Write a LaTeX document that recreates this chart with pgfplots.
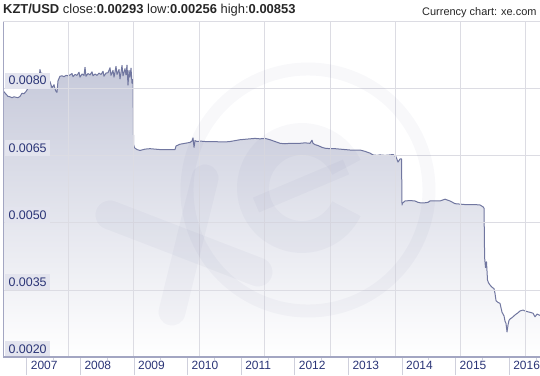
\documentclass[border=0pt]{standalone}
\usepackage{pgfplots}
\pgfplotsset{compat=1.18}
\usepackage{pgfplotstable}
\usepackage{fontspec}
\setmainfont{Liberation Sans}
\definecolor{lineC}{HTML}{7177A0}
\definecolor{fillTop}{HTML}{C6C9DA}
\definecolor{fillBot}{HTML}{FFFFFF}
\definecolor{gridC}{HTML}{DCDCE3}
\definecolor{labText}{HTML}{2B3577}
\definecolor{labBg}{HTML}{E3E4EE}
\definecolor{sepC}{HTML}{CFD0DC}
\definecolor{axisC}{HTML}{A3A6C2}
\definecolor{wmC}{HTML}{4A5088}

\pgfplotstableread{
x y
2006.564 0.00795
2006.614 0.00788
2006.651 0.00783
2006.688 0.00782
2006.726 0.00780
2006.763 0.00782
2006.800 0.00781
2006.838 0.00780
2006.875 0.00783
2006.912 0.00790
2006.950 0.00789
2006.987 0.00794
2007.024 0.00801
2007.062 0.00802
2007.099 0.00805
2007.136 0.00806
2007.174 0.00815
2007.211 0.00818
2007.230 0.00822
2007.248 0.00843
2007.267 0.00832
2007.285 0.00835
2007.323 0.00827
2007.360 0.00828
2007.397 0.00824
2007.435 0.00816
2007.472 0.00802
2007.509 0.00809
2007.528 0.00800
2007.547 0.00794
2007.565 0.00792
2007.584 0.00818
2007.621 0.00828
2007.659 0.00829
2007.696 0.00827
2007.733 0.00830
2007.771 0.00829
2007.808 0.00831
2007.845 0.00834
2007.864 0.00827
2007.901 0.00832
2007.938 0.00830
2007.976 0.00837
2007.994 0.00826
2008.032 0.00833
2008.069 0.00830
2008.088 0.00848
2008.106 0.00828
2008.144 0.00834
2008.181 0.00831
2008.218 0.00838
2008.237 0.00829
2008.274 0.00833
2008.312 0.00830
2008.349 0.00835
2008.386 0.00832
2008.424 0.00839
2008.442 0.00828
2008.479 0.00835
2008.517 0.00836
2008.554 0.00847
2008.573 0.00830
2008.610 0.00841
2008.629 0.00826
2008.666 0.00850
2008.685 0.00832
2008.722 0.00843
2008.741 0.00822
2008.778 0.00852
2008.797 0.00829
2008.834 0.00845
2008.853 0.00831
2008.871 0.00853
2008.890 0.00808
2008.909 0.00841
2008.927 0.00826
2008.946 0.00846
2008.965 0.00812
2008.983 0.00821
2008.994 0.00676
2009.011 0.00668
2009.058 0.00664
2009.114 0.00662
2009.207 0.00665
2009.300 0.00666
2009.394 0.00665
2009.487 0.00664
2009.580 0.00664
2009.674 0.00664
2009.767 0.00664
2009.786 0.00672
2009.823 0.00674
2009.860 0.00676
2009.954 0.00678
2010.047 0.00680
2010.084 0.00683
2010.103 0.00690
2010.122 0.00669
2010.140 0.00684
2010.178 0.00682
2010.234 0.00683
2010.327 0.00682
2010.420 0.00682
2010.513 0.00682
2010.607 0.00681
2010.700 0.00681
2010.793 0.00682
2010.886 0.00684
2010.980 0.00686
2011.073 0.00687
2011.166 0.00688
2011.259 0.00689
2011.353 0.00688
2011.446 0.00689
2011.539 0.00686
2011.633 0.00682
2011.726 0.00678
2011.819 0.00677
2011.912 0.00678
2012.006 0.00678
2012.099 0.00678
2012.192 0.00679
2012.285 0.00678
2012.323 0.00685
2012.341 0.00678
2012.379 0.00675
2012.435 0.00673
2012.509 0.00669
2012.565 0.00667
2012.659 0.00666
2012.752 0.00666
2012.845 0.00665
2012.938 0.00664
2013.032 0.00663
2013.125 0.00663
2013.218 0.00663
2013.312 0.00660
2013.405 0.00656
2013.461 0.00652
2013.536 0.00651
2013.591 0.00652
2013.685 0.00651
2013.778 0.00652
2013.834 0.00653
2013.890 0.00648
2013.927 0.00636
2013.965 0.00643
2013.993 0.00643
2014.002 0.00540
2014.011 0.00544
2014.058 0.00549
2014.151 0.00550
2014.244 0.00549
2014.300 0.00546
2014.338 0.00545
2014.431 0.00545
2014.487 0.00546
2014.524 0.00549
2014.618 0.00549
2014.711 0.00549
2014.804 0.00553
2014.897 0.00549
2014.991 0.00543
2015.084 0.00542
2015.177 0.00541
2015.271 0.00541
2015.364 0.00541
2015.457 0.00540
2015.513 0.00536
2015.532 0.00533
2015.543 0.00422
2015.560 0.00400
2015.578 0.00413
2015.597 0.00372
2015.616 0.00366
2015.644 0.00361
2015.681 0.00356
2015.718 0.00353
2015.737 0.00342
2015.756 0.00326
2015.793 0.00322
2015.830 0.00320
2015.868 0.00300
2015.905 0.00292
2015.924 0.00280
2015.942 0.00275
2015.961 0.00256
2015.980 0.00272
2015.998 0.00282
2016.017 0.00285
2016.054 0.00288
2016.110 0.00294
2016.166 0.00299
2016.204 0.00303
2016.260 0.00305
2016.297 0.00303
2016.353 0.00301
2016.390 0.00300
2016.446 0.00298
2016.483 0.00290
2016.521 0.00296
2016.577 0.00293
}\ratedata

\begin{document}
\begin{tikzpicture}[x=1bp,y=1bp]
\useasboundingbox (0,0) rectangle (540,375);
\begin{axis}[
  name=ax,
  at={(3.3bp,18bp)}, anchor=south west,
  scale only axis, width=536.7bp, height=335.3bp,
  xmin=2006.5634, xmax=2016.5765, ymin=0.0020, ymax=0.0095,
  axis line style={draw=none},
  axis on top,
  xtick={2007,2008,2009,2010,2011,2012,2013,2014,2015,2016},
  xticklabels={2007,2008,2009,2010,2011,2012,2013,2014,2015,2016},
  minor xtick={2007.5,2008.5,2009.5,2010.5,2011.5,2012.5,2013.5,2014.5,2015.5,2016.5},
  xtick pos=left, ytick pos=left,
  tick align=outside,
  major tick length=18bp, minor tick length=3bp,
  xtick style={draw=sepC, line width=0.8bp},
  minor tick style={draw=axisC, line width=0.6bp},
  extra x ticks={2007.776,2008.989,2010.215,2011.427,2012.659,2013.872,2015.084,2016.297},
  extra x tick labels={},
  extra x tick style={grid=major, major tick length=0pt},
  ytick={0.0020,0.0035,0.0050,0.0065,0.0080},
  ymajorgrids=true,
  major grid style={draw=gridC, line width=0.8bp},
  ytick style={draw=none},
  scaled y ticks=false,
  yticklabel style={anchor=south west, fill=labBg, text=labText, inner xsep=3.3bp, inner ysep=3.5bp,
    font=\fontsize{12.5}{15}\selectfont, xshift=19.7bp,
    /pgf/number format/.cd, fixed, fixed zerofill, precision=4, assume math mode=true},
  xticklabel style={anchor=north west, text=labText, inner sep=0pt,
    font=\fontsize{12}{14}\selectfont, xshift=4bp, yshift=14bp,
    /pgf/number format/.cd, assume math mode=true},
]
\addplot[top color=fillTop, bottom color=fillBot, draw=none] table[x=x,y=y] {\ratedata} \closedcycle;
\addplot[lineC, line width=1bp, line join=round] table[x=x,y=y] {\ratedata};
\end{axis}
\draw[axisC, line width=1bp] (ax.south west) -- (ax.north west);
\draw[axisC, line width=1.4bp] (ax.south west) -- (ax.south east);
\draw[gridC, line width=1bp] (ax.north west) -- (ax.north east);
\begin{scope}[draw opacity=0.04, wmC]
\draw[line width=13] (308,185) circle (121);
\draw[line width=32] (302,187) ++(25:49) arc[start angle=25, end angle=335, radius=49];
\draw[line width=16] (256,170) -- (346,208);
\draw[line width=29, line cap=round] (110,160) -- (258,103);
\draw[line width=27, line cap=round] (205,197) -- (172,63);
\end{scope}
\node[anchor=base west, inner sep=0, font=\fontsize{13}{15}\selectfont, text=black!85] at (3,361.7)
  {\textbf{KZT/USD} close:\textbf{0.00293} low:\textbf{0.00256} high:\textbf{0.00853}};
\node[anchor=base east, inner sep=0, font=\fontsize{11}{13}\selectfont, text=black!85] at (536.7,359.3)
  {Currency chart: xe.com};
\end{tikzpicture}
\end{document}
